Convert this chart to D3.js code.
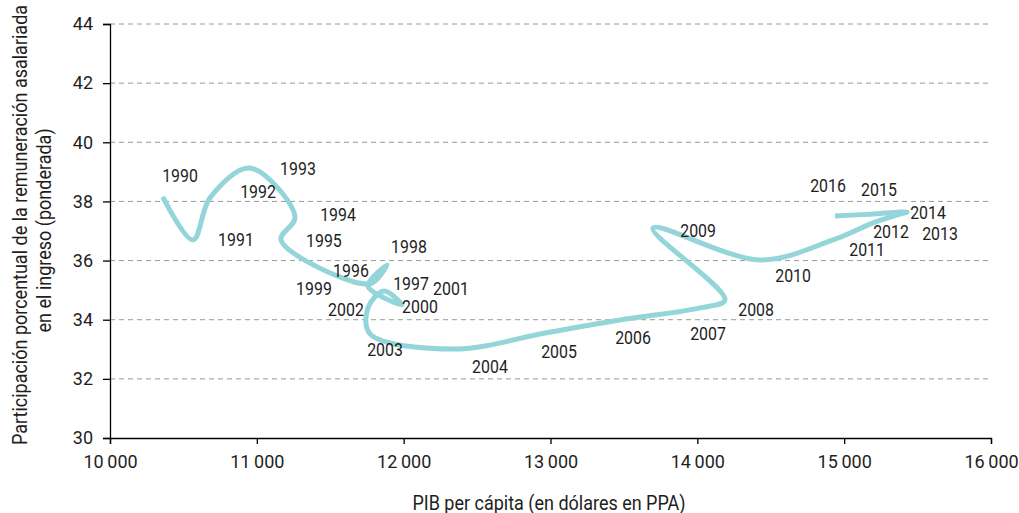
<!DOCTYPE html>
<html>
<head>
<meta charset="utf-8">
<script src="https://cdn.jsdelivr.net/npm/d3@7"></script>
<style>
  html, body { margin: 0; padding: 0; background: #fff; }
  svg text { font-family: Roboto, "Liberation Sans", sans-serif; font-weight: 400; fill: #1e1e1e; }
</style>
</head>
<body>
<svg id="chart" width="1019" height="513"></svg>
<script>
// ---- data ----
const years = [1990,1991,1992,1993,1994,1995,1996,1997,1998,1999,2000,2001,2002,2003,2004,2005,2006,2007,2008,2009,2010,2011,2012,2013,2014,2015,2016];
const gdpPerCapita = [10359,10565,10681,10953,11260,11165,11600,11784,11887,11757,11989,11866,11757,11771,12350,12963,13473,14018,14188,13698,14427,14924,15210,15380,15428,15176,14938];
const wageShare = [38.15,36.70,38.12,39.13,37.47,36.70,35.38,35.24,35.85,35.14,34.50,34.97,34.40,33.52,33.01,33.55,33.99,34.40,34.67,37.10,36.02,36.70,37.30,37.57,37.64,37.57,37.51];
// year-label anchor positions (data units)
const labelGdp = [10477,10858,11008,11280,11553,11457,11641,12050,12036,11389,12111,12322,11607,11873,12588,13058,13562,14073,14400,14005,14652,15156,15319,15653,15571,15237,14890];
const labelShare = [38.86,36.70,38.32,39.10,37.54,36.66,35.65,35.21,36.46,35.07,34.43,35.04,34.36,32.98,32.40,32.91,33.38,33.52,34.33,37.03,35.48,36.36,36.97,36.90,37.64,38.39,38.52];
const xTicks = [10000,11000,12000,13000,14000,15000,16000];
const yTicks = [30,32,34,36,38,40,42,44];
const xTitle = "PIB per cápita (en dólares en PPA)";
const yTitleLines = ["Participación porcentual de la remuneración asalariada", "en el ingreso (ponderada)"];

// ---- layout ----
const svg = d3.select("#chart");
const x = d3.scaleLinear().domain([10000,16000]).range([110,991]);
const y = d3.scaleLinear().domain([30,44]).range([438,24]);
const fmt = d => d3.format(",")(d).replace(/,/g, "\u2009");

// gridlines
svg.append("g").selectAll("line")
  .data(yTicks.filter(d => d !== 30))
  .join("line")
  .attr("x1", x(10000)).attr("x2", x(16000))
  .attr("y1", d => y(d)).attr("y2", d => y(d))
  .attr("stroke", "#9a9a9a").attr("stroke-width", 1)
  .attr("stroke-dasharray", "5,4");

// y axis
const yAxis = svg.append("g").attr("transform", `translate(${x(10000)},0)`)
  .call(d3.axisLeft(y).tickValues(yTicks).tickSize(7).tickPadding(10).tickFormat(d3.format("d")));
yAxis.attr("font-family", null).attr("font-size", null);
yAxis.select(".domain").attr("stroke", "#000").attr("stroke-width", 1.3);
yAxis.selectAll(".tick line").attr("stroke", "#000").attr("stroke-width", 1.3);
yAxis.selectAll("text").attr("font-size", 18).attr("fill", "#1e1e1e");

// x axis
const xAxis = svg.append("g").attr("transform", `translate(0,${y(30)})`)
  .call(d3.axisBottom(x).tickValues(xTicks).tickSize(6).tickPadding(11).tickFormat(fmt));
xAxis.attr("font-family", null).attr("font-size", null);
xAxis.select(".domain").attr("stroke", "#000").attr("stroke-width", 1.3);
xAxis.selectAll(".tick line").attr("stroke", "#000").attr("stroke-width", 1.3);
xAxis.selectAll("text").attr("font-size", 18).attr("fill", "#1e1e1e");

// line
const pts = years.map((yr, i) => [gdpPerCapita[i], wageShare[i]]);
const line = d3.line().x(d => x(d[0])).y(d => y(d[1])).curve(d3.curveCatmullRom.alpha(0.5));
svg.append("path").datum(pts)
  .attr("d", line)
  .attr("fill", "none")
  .attr("stroke", "#93d5d9")
  .attr("stroke-width", 5)
  .attr("stroke-linecap", "butt")
  .attr("stroke-linejoin", "round");

// year labels (condensed look via horizontal scale)
svg.append("g").selectAll("text")
  .data(years)
  .join("text")
  .attr("transform", (d, i) => `translate(${x(labelGdp[i])},${y(labelShare[i])}) scale(0.86,1)`)
  .attr("text-anchor", "middle")
  .attr("dominant-baseline", "central")
  .attr("font-size", 18.5)
  .text(d => d);

// titles
svg.append("text")
  .attr("transform", "translate(549,510) scale(0.9,1)")
  .attr("text-anchor", "middle")
  .attr("font-size", 20)
  .text(xTitle);

const yt = svg.append("text")
  .attr("transform", "translate(27,225) rotate(-90) scale(0.9,1)")
  .attr("text-anchor", "middle")
  .attr("font-size", 20);
yt.selectAll("tspan").data(yTitleLines).join("tspan")
  .attr("x", (d, i) => i === 0 ? 0 : -6)
  .attr("y", (d, i) => i * 24)
  .text(d => d);
</script>
</body>
</html>
